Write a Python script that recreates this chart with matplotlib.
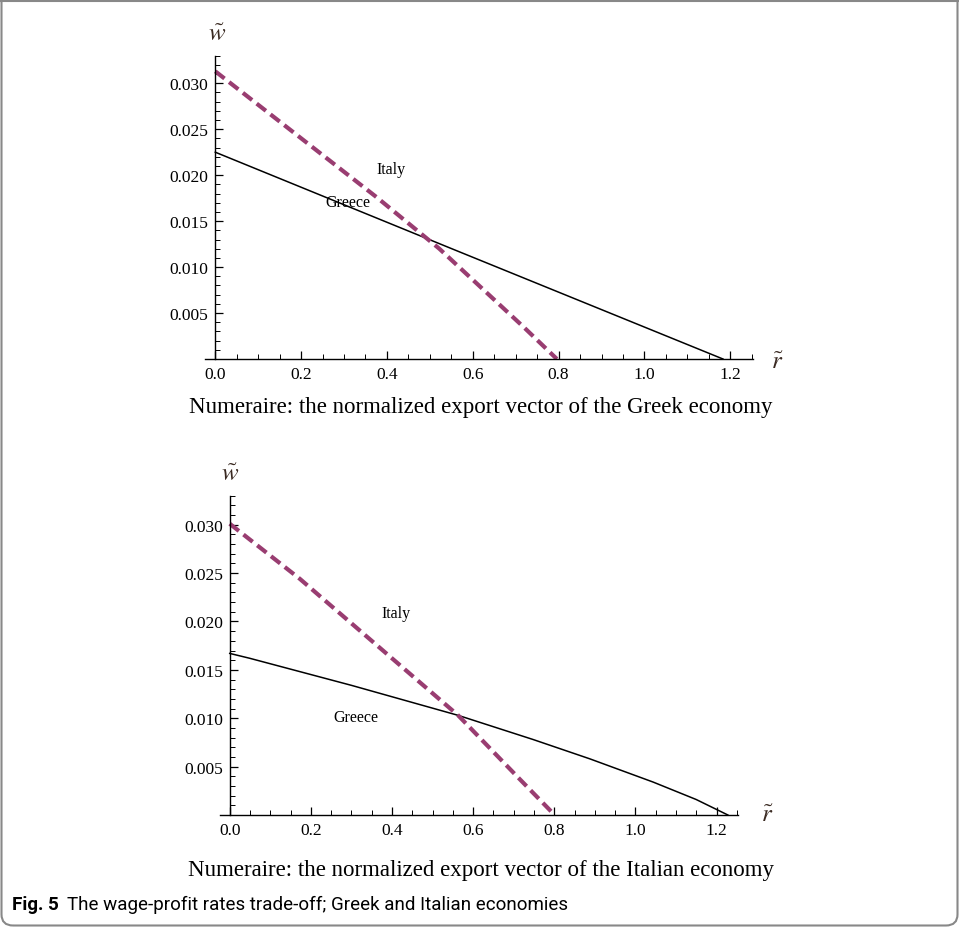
import numpy as np
import matplotlib.pyplot as plt
from matplotlib.patches import FancyBboxPatch
from matplotlib.lines import Line2D
from matplotlib.ticker import MultipleLocator, FixedLocator

# ===============================
# Data
# ===============================
# Numeraire: Greek export vector
r_gr_top = [0.0, 0.551, 1.183]
w_gr_top = [0.0225, 0.0120, 0.0]
r_it_top = [0.0, 0.376, 0.522, 0.718, 0.796]
w_it_top = [0.0313, 0.0176, 0.0120, 0.0035, 0.0]

# Numeraire: Italian export vector
r_gr_bot = [0.0, 0.049, 0.30, 0.563, 0.748, 0.888, 1.044, 1.15, 1.228]
w_gr_bot = [0.0167, 0.0162, 0.0134, 0.0103, 0.0078, 0.0058, 0.0034, 0.0016, 0.0]
r_it_bot = [0.0, 0.173, 0.563, 0.715, 0.801]
w_it_bot = [0.0301, 0.0244, 0.0103, 0.0037, 0.0]

x_ticks = [0.0, 0.2, 0.4, 0.6, 0.8, 1.0, 1.2]
y_ticks = [0.005, 0.010, 0.015, 0.020, 0.025, 0.030]

captions = ["Numeraire: the normalized export vector of the Greek economy",
            "Numeraire: the normalized export vector of the Italian economy"]

# label positions (data coords)
lab_it = [(0.41, 0.0207), (0.41, 0.0209)]
lab_gr = [(0.31, 0.0171), (0.31, 0.0101)]

ITALY_COL = (0.6, 0.24, 0.4428)
SERIF = ["Liberation Serif", "DejaVu Serif"]
plt.rcParams["mathtext.fontset"] = "stix"

W, H = 959, 928
fig = plt.figure(figsize=(W / 100, H / 100), dpi=100)


def make_axes(rect, r_gr, w_gr, r_it, w_it, li, lg):
    ax = fig.add_axes(rect)
    ax.plot(r_gr, w_gr, color="black", lw=1.1)
    ax.plot(r_it, w_it, color=ITALY_COL, lw=3.0, ls=(0, (2.8, 1.4)))
    ax.set_xlim(-0.024, 1.253)
    ax.set_ylim(0, 0.033)
    for s in ["top", "right"]:
        ax.spines[s].set_visible(False)
    ax.spines["left"].set_position(("data", 0))
    ax.spines["bottom"].set_position(("data", 0))
    ax.spines["left"].set_linewidth(1.0)
    ax.spines["bottom"].set_linewidth(1.0)
    ax.xaxis.set_major_locator(FixedLocator(x_ticks))
    ax.xaxis.set_minor_locator(MultipleLocator(0.05))
    ax.yaxis.set_major_locator(FixedLocator(y_ticks))
    ax.yaxis.set_minor_locator(MultipleLocator(0.001))
    ax.set_xticklabels([f"{v:.1f}" for v in x_ticks])
    ax.set_yticklabels([f"{v:.3f}" for v in y_ticks])
    ax.tick_params(which="major", direction="in", length=6, width=0.9,
                   labelsize=12.5, pad=5)
    ax.tick_params(which="minor", direction="in", length=3.5, width=0.7)
    for t in ax.get_xticklabels() + ax.get_yticklabels():
        t.set_fontfamily(SERIF)
    ax.text(li[0], li[1], "Italy", family=SERIF, fontsize=11.5,
            ha="center", va="center")
    ax.text(lg[0], lg[1], "Greece", family=SERIF, fontsize=11.5,
            ha="center", va="center")
    ax.patch.set_alpha(0)
    return ax


ax1 = make_axes([205 / W, 1 - 360 / H, 548 / W, 303.3 / H],
                r_gr_top, w_gr_top, r_it_top, w_it_top, lab_it[0], lab_gr[0])
ax2 = make_axes([220 / W, 1 - 816 / H, 518 / W, 319.3 / H],
                r_gr_bot, w_gr_bot, r_it_bot, w_it_bot, lab_it[1], lab_gr[1])

# axis symbols
lab_kw = dict(fontsize=18, color="#3a2a22", ha="center", va="center")
fig.text(217 / W, 1 - 34 / H, r"$\tilde{w}$", **lab_kw)
fig.text(777 / W, 1 - 362 / H, r"$\tilde{r}$", **lab_kw)
fig.text(230 / W, 1 - 474 / H, r"$\tilde{w}$", **lab_kw)
fig.text(767 / W, 1 - 815 / H, r"$\tilde{r}$", **lab_kw)

# panel captions
fig.text(481 / W, 1 - 407 / H, captions[0], family=SERIF, fontsize=16.5,
         ha="center", va="center")
fig.text(481 / W, 1 - 871 / H, captions[1], family=SERIF, fontsize=16.5,
         ha="center", va="center")

# figure caption
CAP = ["Roboto", "DejaVu Sans"]
t = fig.text(12 / W, 1 - 905 / H, "Fig. 5", family=CAP, fontsize=13.5,
             fontweight="bold", ha="left", va="center")
fig.canvas.draw()
bb = t.get_window_extent()
fig.text((bb.x1 + 8) / W, 1 - 905 / H,
         "The wage-profit rates trade-off; Greek and Italian economies",
         family=CAP, fontsize=13.5, ha="left", va="center")

# frame: straight top line, rounded bottom corners
frame = FancyBboxPatch((1.5 / W, 1.5 / H), 956 / W, 960 / H,
                       boxstyle="round,pad=0,rounding_size=0.012",
                       transform=fig.transFigure, fill=False,
                       edgecolor="#888888", lw=1.5)
fig.patches.append(frame)
fig.lines.append(Line2D([0, 1], [1 - 1.5 / H, 1 - 1.5 / H],
                        transform=fig.transFigure, color="#888888", lw=1.5))

fig.savefig("out.png", dpi=100)
